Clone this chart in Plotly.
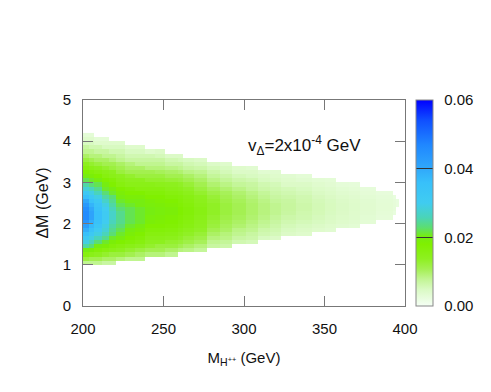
import plotly.graph_objects as go

x_edges = [200, 204, 207, 211.5, 216, 220.5, 226, 232, 238.5, 245, 251, 259, 262,
           269, 277, 285, 292.5, 301, 309, 316, 323, 332, 342, 350, 357, 365, 372,
           382, 392.5, 394.6, 396.5]

# lower edge (Delta M, GeV) of the filled part of each column
col_bottom = [1.0, 1.0, 1.0, 1.0, 1.0, 1.1, 1.1, 1.1, 1.2, 1.2, 1.2, 1.3,
              1.3, 1.3, 1.4, 1.4, 1.5, 1.5, 1.6, 1.6, 1.7, 1.7, 1.8, 1.8,
              1.9, 1.9, 2.0, 2.1, 2.2, 2.4]

# values in each column, bottom to top in steps of 0.1 GeV (units of 1e-3)
col_values = [
    [8, 12, 16, 20, 25, 29, 32, 36, 39, 42, 44, 46, 46, 45, 43, 40, 36, 32, 28, 25, 22, 20, 18, 16, 14, 12, 10, 8, 7, 5, 4, 3],
    [8, 11, 15, 19, 23, 26, 29, 32, 35, 37, 39, 41, 41, 40, 38, 35, 32, 29, 26, 23, 21, 19, 17, 15, 13, 11, 9, 8, 6, 5, 4, 3],
    [8, 11, 14, 17, 20, 23, 26, 29, 31, 33, 35, 36, 36, 35, 34, 32, 29, 26, 24, 22, 20, 18, 16, 14, 12, 10, 9, 7, 6, 4, 3],
    [7, 10, 13, 16, 19, 21, 24, 26, 28, 29, 30, 31, 31, 30, 29, 27, 25, 23, 21, 20, 18, 16, 15, 13, 11, 10, 8, 7, 5, 4, 3],
    [7, 10, 12, 15, 17, 19, 21, 23, 24, 25, 26, 27, 27, 26, 25, 24, 23, 21, 20, 18, 17, 15, 14, 12, 11, 9, 8, 6, 5, 4],
    [9, 12, 14, 16, 18, 20, 21, 22, 23, 24, 24, 24, 23, 22, 21, 20, 19, 18, 16, 15, 14, 12, 11, 10, 8, 7, 6, 5, 4],
    [8, 11, 13, 15, 17, 18, 19, 20, 21, 22, 22, 22, 22, 21, 20, 19, 18, 17, 15, 14, 13, 11, 10, 9, 7, 6, 5, 4],
    [8, 10, 12, 14, 16, 17, 18, 19, 20, 21, 21, 21, 21, 20, 20, 19, 18, 16, 15, 14, 12, 11, 10, 8, 7, 6, 5, 4],
    [9, 11, 13, 14, 15, 16, 17, 18, 19, 19.5, 20, 20, 19.5, 19, 18, 17, 16, 15, 13, 12, 11, 9, 8, 7, 6, 4],
    [9, 11, 12, 14, 15, 16, 17, 18, 18.5, 19, 19.5, 19.5, 19, 18.5, 18, 17, 16, 14.5, 13, 12, 10.5, 9, 8, 7, 5.5, 4.5],
    [8, 10, 12, 13, 14.5, 15.5, 16.5, 17.5, 18, 18.5, 19, 19, 18.5, 18, 17, 16, 15, 14, 12.5, 11, 10, 8.5, 7, 6, 4.5],
    [9, 11, 12.5, 13.5, 14.5, 15.5, 16.5, 17, 17.5, 18, 18, 17.5, 17, 16.5, 15.5, 14.5, 13.5, 12, 11, 9.5, 8, 7, 5.5, 4.5],
    [8.5, 10, 11.5, 12.5, 13.5, 14.5, 15.5, 16, 16.5, 17, 17, 16.5, 16, 15.5, 14.5, 13.5, 12.5, 11, 10, 8.5, 7, 6, 5],
    [7.5, 9, 10.5, 11.5, 12.5, 13.5, 14, 14.5, 15, 15.5, 15.5, 15, 14.5, 14, 13, 12, 11, 10, 9, 8, 6.5, 5.5, 4.5],
    [7, 8, 9, 10, 11, 12, 12.5, 13, 13.5, 13.5, 13.5, 13, 12.5, 11.5, 10.5, 9.5, 8.5, 7.5, 6.5, 5.5, 4.5],
    [6.5, 7.5, 8.5, 9, 10, 10.5, 11, 11.5, 12, 12, 12, 11.5, 11, 10.5, 9.5, 8.5, 7.5, 6.5, 5.5, 5, 4],
    [6, 7, 8, 8.5, 9.5, 10, 10.5, 10.8, 10.8, 10.8, 10.5, 10, 9.5, 8.5, 7.5, 6.5, 5.5, 4.5, 4],
    [5.5, 6.5, 7, 8, 8.5, 9, 9.5, 9.8, 9.8, 9.8, 9.5, 9, 8.5, 7.5, 7, 6, 5, 4.5, 3.5],
    [5, 6, 6.5, 7.5, 8, 8.5, 8.8, 8.8, 8.8, 8.5, 8, 7.5, 6.5, 6, 5, 4.5, 3.5],
    [4.5, 5.5, 6, 6.5, 7, 7.5, 8, 8, 8, 7.5, 7, 6.5, 6, 5.5, 4.5, 4, 3.5],
    [4.5, 5, 5.5, 6, 6.5, 7, 7.2, 7.2, 7, 6.5, 6, 5.5, 4.5, 4, 3.5],
    [4, 4.5, 5, 5.5, 6, 6.2, 6.4, 6.4, 6.2, 6, 5.5, 5, 4.5, 3.5, 3],
    [4, 4.5, 5, 5.3, 5.6, 5.7, 5.7, 5.5, 5.2, 4.8, 4.3, 3.8, 3.2],
    [3.5, 4, 4.5, 4.8, 5, 5.1, 5.1, 5, 4.7, 4.3, 3.9, 3.4, 3],
    [3.5, 4, 4.3, 4.5, 4.6, 4.6, 4.4, 4.1, 3.7, 3.3, 2.8],
    [3.2, 3.6, 3.9, 4, 4.1, 4.1, 4, 3.7, 3.4, 3, 2.6],
    [3, 3.3, 3.5, 3.6, 3.6, 3.5, 3.2, 2.9, 2.6],
    [2.7, 2.9, 3.1, 3.1, 3, 2.8, 2.5],
    [2.4, 2.6, 2.7, 2.6, 2.4],
    [2.4, 2.3],
]

cbar_ticks = [0, 0.02, 0.04, 0.06]
cbar_labels = ['0.00', '0.02', '0.04', '0.06']

y_step = 0.1
y_min = 1.0
n_rows = 32
y_edges = [round(y_min + k * y_step, 1) for k in range(n_rows + 1)]

# build the grid (None = empty / white)
z = [[None] * len(col_values) for _ in range(n_rows)]
for j, (b, vals) in enumerate(zip(col_bottom, col_values)):
    start = int(round((b - y_min) / y_step))
    for k, v in enumerate(vals):
        z[start + k][j] = v * 1e-3

colorscale = [
    [0.0, '#F5FFF5'], [0.08, '#DAFAC4'], [0.13, '#C2F594'], [0.18, '#A4F052'],
    [0.23, '#8EF020'], [0.30, '#80F000'], [0.34, '#74EC14'], [0.38, '#5CDE70'],
    [0.43, '#4AD4B8'], [0.50, '#40CCF0'], [0.60, '#38C0FA'], [0.667, '#30A8FA'],
    [0.78, '#2088FF'], [0.90, '#1050FF'], [1.0, '#0000FF'],
]

family = 'Liberation Sans, Arial, sans-serif'
tick_font = dict(family=family, size=15, color='#111111')
xtitle_font = dict(family=family, size=15, color='#111111')
ytitle_font = dict(family=family, size=16, color='#111111')
note_font = dict(family=family, size=17, color='#111111')

fig = go.Figure(go.Heatmap(
    x=x_edges, y=y_edges, z=z,
    zmin=0, zmax=0.06,
    colorscale=colorscale,
    hoverinfo='skip',
    colorbar=dict(
        x=1.034, xanchor='left', xpad=0,
        y=0.5, yanchor='middle', ypad=0,
        len=1, thickness=17,
        outlinecolor='#888888', outlinewidth=1,
        tickvals=cbar_ticks,
        # small gap between bar and labels
        ticktext=['\u00a0\u2009' + t for t in cbar_labels],
        ticks='inside', ticklen=17, tickcolor='#333333', tickwidth=1,
        tickfont=tick_font,
    ),
))

axis_common = dict(
    showgrid=False, zeroline=False, automargin=False,
    showline=True, linecolor='#777777', linewidth=1, mirror='allticks',
    ticks='inside', ticklen=10, tickcolor='#777777', tickwidth=1,
    tickfont=tick_font,
)

fig.update_xaxes(range=[200, 400], tickvals=[200, 250, 300, 350, 400],
                 title=dict(text='M<sub>H<sup>++</sup></sub> (GeV)', font=xtitle_font, standoff=16),
                 ticklabelstandoff=9, **axis_common)
fig.update_yaxes(range=[0, 5], tickvals=[0, 1, 2, 3, 4, 5],
                 title=dict(text='ΔM (GeV)', font=ytitle_font, standoff=10),
                 ticklabelstandoff=8, **axis_common)

fig.add_annotation(x=301, y=3.9, xanchor='left', yanchor='middle', showarrow=False,
                   text='v<sub>Δ</sub>=2x10<sup>-4</sup> GeV', font=note_font)

# the page adds an 8 px body margin, so the figure is 8 px smaller each way
fig.update_layout(
    width=483, height=384,
    margin=dict(l=75, r=86, t=92, b=86, autoexpand=False),
    plot_bgcolor='white', paper_bgcolor='white',
)

fig.write_html("out.html")
